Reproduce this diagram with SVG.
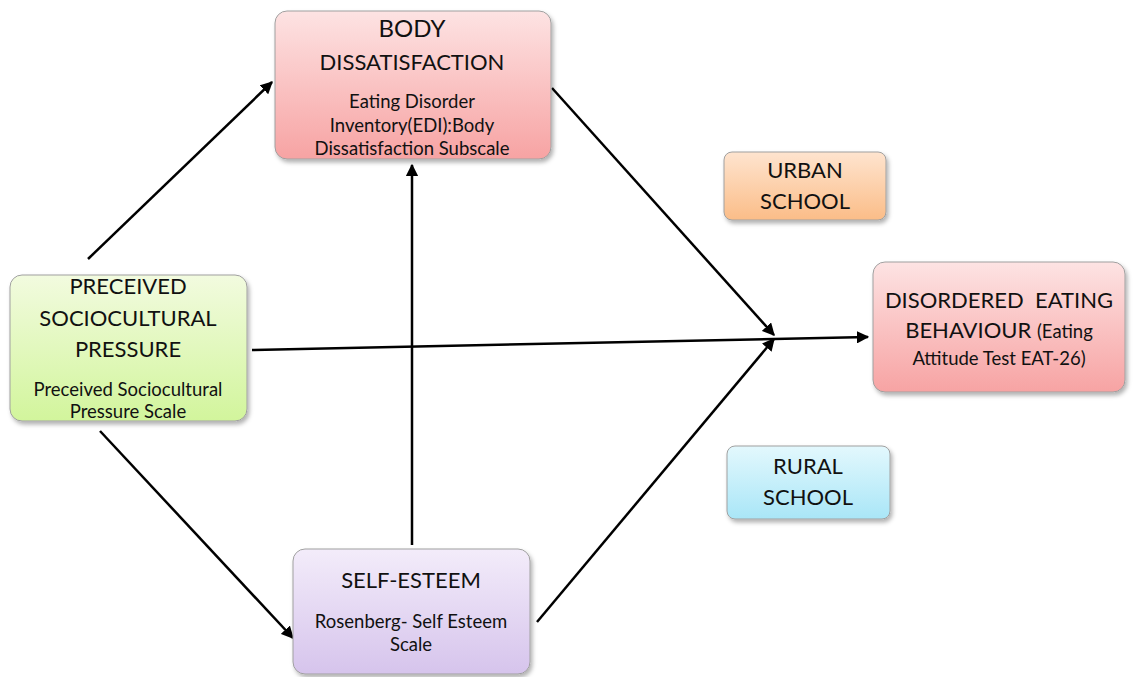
<svg xmlns="http://www.w3.org/2000/svg" width="1136" height="677" viewBox="0 0 1136 677">
<defs>
<linearGradient id="gPink" x1="0" y1="0" x2="0" y2="1"><stop offset="0" stop-color="#fde3e3"/><stop offset="1" stop-color="#f7a3a3"/></linearGradient>
<linearGradient id="gGreen" x1="0" y1="0" x2="0" y2="1"><stop offset="0" stop-color="#f2fbdf"/><stop offset="1" stop-color="#d2f59c"/></linearGradient>
<linearGradient id="gPurple" x1="0" y1="0" x2="0" y2="1"><stop offset="0" stop-color="#f3ecfa"/><stop offset="1" stop-color="#d6c4ec"/></linearGradient>
<linearGradient id="gOrange" x1="0" y1="0" x2="0" y2="1"><stop offset="0" stop-color="#fee4cf"/><stop offset="1" stop-color="#fbbd88"/></linearGradient>
<linearGradient id="gCyan" x1="0" y1="0" x2="0" y2="1"><stop offset="0" stop-color="#e3f8fd"/><stop offset="1" stop-color="#a9e6f7"/></linearGradient>
<filter id="sh" x="-10%" y="-10%" width="125%" height="125%"><feDropShadow dx="2" dy="3" stdDeviation="2" flood-color="#000" flood-opacity="0.3"/></filter>
<marker id="ah" viewBox="0 0 10 10" refX="9" refY="5" markerWidth="5" markerHeight="5" orient="auto" markerUnits="strokeWidth"><path d="M0,0 L10,5 L0,10 Z" fill="#000"/></marker>
</defs>
<style>
.box{stroke:#a0a0a0;stroke-width:1;filter:url(#sh)}
text{font-family:Lato,"Open Sans","Liberation Sans",sans-serif;fill:#111;text-anchor:middle}
.t{font-size:22px}
.s{font-size:18.5px}
.c{stroke:#000;stroke-width:2.5;fill:none;marker-end:url(#ah)}
</style>
<rect width="1136" height="677" fill="#fff"/>
<g id="connectors">
<line class="c" x1="88" y1="259" x2="272" y2="82"/>
<line class="c" x1="100" y1="431" x2="293" y2="638"/>
<line class="c" x1="252" y1="350" x2="868" y2="337"/>
<line class="c" x1="412" y1="545" x2="412" y2="165"/>
<line class="c" x1="552" y1="88" x2="774" y2="335"/>
<line class="c" x1="537" y1="622" x2="774" y2="339"/>
</g>
<g id="body">
<rect class="box" x="275" y="11" width="276" height="148" rx="12" fill="url(#gPink)"/>
<text x="412" y="37" style="font-size:24px">BODY</text>
<text class="t" x="412" y="70">DISSATISFACTION</text>
<text class="s" x="412" y="108">Eating Disorder</text>
<text class="s" x="412" y="132">Inventory(EDI):Body</text>
<text class="s" x="412" y="155">Dissatisfaction Subscale</text>
</g>
<g id="sociocultural">
<rect class="box" x="10" y="275" width="237" height="146" rx="12" fill="url(#gGreen)"/>
<text class="t" x="128" y="294">PRECEIVED</text>
<text class="t" x="128" y="326">SOCIOCULTURAL</text>
<text class="t" x="128" y="357">PRESSURE</text>
<text class="s" x="128" y="396">Preceived Sociocultural</text>
<text class="s" x="128" y="418">Pressure Scale</text>
</g>
<g id="selfesteem">
<rect class="box" x="293" y="549" width="237" height="125" rx="12" fill="url(#gPurple)"/>
<text class="t" x="411" y="588">SELF-ESTEEM</text>
<text class="s" x="411" y="628">Rosenberg- Self Esteem</text>
<text class="s" x="411" y="651">Scale</text>
</g>
<g id="disordered">
<rect class="box" x="873" y="262" width="252" height="130" rx="12" fill="url(#gPink)"/>
<text class="t" x="999" y="308" style="white-space:pre" xml:space="preserve">DISORDERED  EATING</text>
<text x="999" y="338"><tspan style="font-size:22px">BEHAVIOUR </tspan><tspan style="font-size:18.5px">(Eating</tspan></text>
<text class="s" x="999" y="365">Attitude Test EAT-26)</text>
</g>
<g id="urban">
<rect class="box" x="724" y="152" width="162" height="68" rx="8" fill="url(#gOrange)"/>
<text class="t" x="805" y="178">URBAN</text>
<text class="t" x="805" y="209">SCHOOL</text>
</g>
<g id="rural">
<rect class="box" x="727" y="446" width="163" height="73" rx="8" fill="url(#gCyan)"/>
<text class="t" x="808" y="474">RURAL</text>
<text class="t" x="808" y="505">SCHOOL</text>
</g>
</svg>
